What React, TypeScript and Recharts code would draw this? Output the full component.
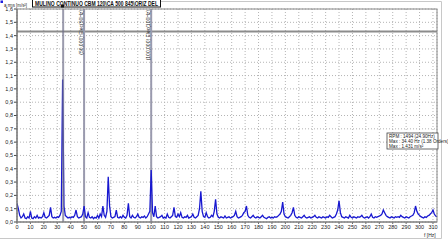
import React from "react";
import {
  LineChart,
  Line,
  XAxis,
  YAxis,
  CartesianGrid,
  ReferenceLine,
} from "recharts";

// Spectrum amplitude (a rms, m/s²), one value per Hz from 0 Hz.
const AMPS: number[] = [
  0.14, 0.10, 0.05, 0.03, 0.04, 0.06, 0.03, 0.025, 0.04, 0.03,
  0.08, 0.03, 0.025, 0.04, 0.03, 0.05, 0.03, 0.035, 0.03, 0.04,
  0.07, 0.035, 0.03, 0.04, 0.05, 0.11, 0.04, 0.03, 0.035, 0.03,
  0.04, 0.035, 0.05, 0.08, 1.07, 0.12, 0.05, 0.04, 0.03, 0.035,
  0.03, 0.04, 0.035, 0.05, 0.09, 0.04, 0.03, 0.035, 0.04, 0.06,
  0.12, 0.04, 0.03, 0.07, 0.035, 0.03, 0.04, 0.025, 0.035, 0.03,
  0.05, 0.03, 0.06, 0.04, 0.12, 0.05, 0.035, 0.08, 0.34, 0.12,
  0.04, 0.03, 0.035, 0.04, 0.09, 0.035, 0.03, 0.04, 0.03, 0.05,
  0.035, 0.03, 0.05, 0.14, 0.04, 0.03, 0.05, 0.035, 0.03, 0.04,
  0.06, 0.035, 0.03, 0.04, 0.035, 0.045, 0.03, 0.04, 0.06, 0.08,
  0.39, 0.07, 0.04, 0.12, 0.04, 0.03, 0.035, 0.04, 0.05, 0.03,
  0.035, 0.03, 0.06, 0.035, 0.03, 0.04, 0.05, 0.11, 0.04, 0.035,
  0.06, 0.04, 0.07, 0.035, 0.03, 0.04, 0.035, 0.05, 0.03, 0.035,
  0.04, 0.06, 0.035, 0.03, 0.04, 0.05, 0.10, 0.23, 0.08, 0.04,
  0.035, 0.07, 0.04, 0.03, 0.035, 0.05, 0.04, 0.08, 0.17, 0.06,
  0.035, 0.03, 0.04, 0.035, 0.03, 0.045, 0.03, 0.035, 0.04, 0.03,
  0.035, 0.04, 0.05, 0.08, 0.04, 0.03, 0.035, 0.04, 0.05, 0.07,
  0.08, 0.12, 0.05, 0.035, 0.03, 0.04, 0.05, 0.035, 0.03, 0.04,
  0.035, 0.03, 0.04, 0.05, 0.035, 0.03, 0.025, 0.035, 0.04, 0.03,
  0.035, 0.03, 0.04, 0.035, 0.04, 0.05, 0.06, 0.08, 0.15, 0.06,
  0.04, 0.035, 0.03, 0.04, 0.05, 0.07, 0.11, 0.05, 0.035, 0.03,
  0.04, 0.035, 0.03, 0.04, 0.05, 0.035, 0.03, 0.035, 0.04, 0.03,
  0.035, 0.04, 0.05, 0.035, 0.03, 0.04, 0.035, 0.03, 0.04, 0.035,
  0.03, 0.04, 0.035, 0.05, 0.04, 0.03, 0.035, 0.04, 0.06, 0.09,
  0.16, 0.07, 0.04, 0.035, 0.03, 0.04, 0.035, 0.03, 0.05, 0.035,
  0.03, 0.04, 0.035, 0.03, 0.04, 0.035, 0.04, 0.05, 0.035, 0.03,
  0.035, 0.04, 0.03, 0.04, 0.06, 0.035, 0.03, 0.04, 0.035, 0.04,
  0.045, 0.05, 0.06, 0.09, 0.07, 0.05, 0.04, 0.035, 0.03, 0.04,
  0.035, 0.03, 0.04, 0.035, 0.04, 0.035, 0.05, 0.04, 0.035, 0.03,
  0.04, 0.035, 0.03, 0.04, 0.045, 0.05, 0.07, 0.12, 0.08, 0.06,
  0.05, 0.04, 0.035, 0.03, 0.04, 0.035, 0.045, 0.05, 0.06, 0.07,
  0.09, 0.06, 0.045, 0.04,
];

const X_TICKS = [
  0, 10, 20, 30, 40, 50, 60, 70, 80, 90, 100, 110, 120, 130, 140, 150,
  160, 170, 180, 190, 200, 210, 220, 230, 240, 250, 260, 270, 280, 290,
  300, 310,
];
const Y_TICKS = [
  0, 0.1, 0.2, 0.3, 0.4, 0.5, 0.6, 0.7, 0.8, 0.9, 1.0, 1.1, 1.2, 1.3, 1.4,
  1.5, 1.6,
];

const TITLE = "MULINO CONTINUO CBM 120\\CA 500 845\\ORIZ DEL";
const CURSOR_HZ = 34.4;
const MAX_LEVEL = 1.431;
const MARKERS = [
  { hz: 50, label: "(50,000) Elec(50Hz)" },
  { hz: 100, label: "(100,000) Elec(100Hz)" },
];
const INFO_LINES = [
  "RPM : 1494 (24.90Hz)",
  "Max : 34.40 Hz (1.38 Orders)",
  "Max : 1.431 m/s²",
];

const data = AMPS.map((a, i) => ({ f: i, a }));

const FONT = "'Liberation Sans', Arial, sans-serif";

function VLabel(props: any) {
  const vb = props.viewBox || {};
  const x = (vb.x ?? 0) - 1.5;
  const y = (vb.y ?? 0) + 1;
  return (
    <text
      x={x}
      y={y}
      transform={`rotate(-90 ${x} ${y})`}
      textAnchor="end"
      fontSize={5}
      fontFamily={FONT}
      fill="#222"
    >
      {props.text}
    </text>
  );
}

export default function App() {
  return (
    <div
      style={{
        position: "absolute",
        left: 0,
        top: 0,
        width: 448,
        height: 240,
        background: "#fff",
        fontFamily: FONT,
      }}
    >
      <LineChart
        width={448}
        height={240}
        data={data}
        margin={{ top: 9, right: 11, bottom: 0, left: 0 }}
      >
        <CartesianGrid stroke="#b4b4b4" strokeDasharray="1 2" />
        <XAxis
          dataKey="f"
          type="number"
          domain={[0, 313]}
          ticks={X_TICKS}
          interval={0}
          height={18}
          tickSize={2}
          tickMargin={1}
          stroke="#666"
          tick={{ fontSize: 5.5, fill: "#222", fontFamily: FONT }}
          allowDataOverflow
        />
        <YAxis
          type="number"
          domain={[0, 1.6]}
          ticks={Y_TICKS}
          interval={0}
          width={17}
          tickSize={3}
          tickMargin={1}
          stroke="#444"
          tickFormatter={(v: number) => v.toFixed(1).replace(".", ",")}
          tick={{ fontSize: 5.5, fill: "#222", fontFamily: FONT }}
        />
        <ReferenceLine y={MAX_LEVEL} stroke="#8c8c8c" strokeWidth={2} />
        {MARKERS.map((m) => (
          <ReferenceLine
            key={m.hz}
            x={m.hz}
            stroke="#9a9aae"
            strokeWidth={2}
            label={<VLabel text={m.label} />}
          />
        ))}
        <Line
          type="linear"
          dataKey="a"
          stroke="#1818d0"
          strokeWidth={1.3}
          dot={false}
          isAnimationActive={false}
        />
        <ReferenceLine
          x={CURSOR_HZ}
          stroke="#70708a"
          strokeOpacity={0.7}
          strokeWidth={2}
        />
      </LineChart>
      <svg
        width={448}
        height={240}
        style={{ position: "absolute", left: 0, top: 0, pointerEvents: "none" }}
      >
        {/* plot frame and outer frame */}
        <rect x={17} y={9} width={420} height={213} fill="none" stroke="#888" strokeWidth={1} />
        <polyline points="160,1.5 441.5,1.5 441.5,238.5 0,238.5" fill="none" stroke="#c8c8c8" strokeWidth={1} />
        {/* y-axis unit */}
        <rect x={0.5} y={0.5} width={2.5} height={2.5} fill="#2020e0" />
        <text x={4} y={6.5} fontSize={5} fontFamily={FONT} fill="#222" textLength={23} lengthAdjust="spacingAndGlyphs">
          a rms [m/s²]
        </text>
        {/* title */}
        <rect x={32.5} y={-0.5} width={128} height={7.5} fill="#fff" stroke="#111" strokeWidth={1} />
        <text x={35} y={6} fontSize={6.5} fontWeight="bold" fontFamily={FONT} fill="#111" textLength={123} lengthAdjust="spacingAndGlyphs">
          {TITLE}
        </text>
        <rect x={61} y={4.5} width={3} height={3} fill="#111" />
        {/* x label */}
        <text x={424} y={237} fontSize={5} fontFamily={FONT} fill="#222">
          f [Hz]
        </text>
        {/* cursor info */}
        <rect x={387} y={133} width={51} height={16} fill="#fff" stroke="#444" strokeWidth={0.8} />
        {INFO_LINES.map((t, i) => (
          <text key={i} x={389} y={137.5 + i * 5.3} fontSize={4.6} fontFamily={FONT} fill="#222">
            {t}
          </text>
        ))}
      </svg>
    </div>
  );
}
